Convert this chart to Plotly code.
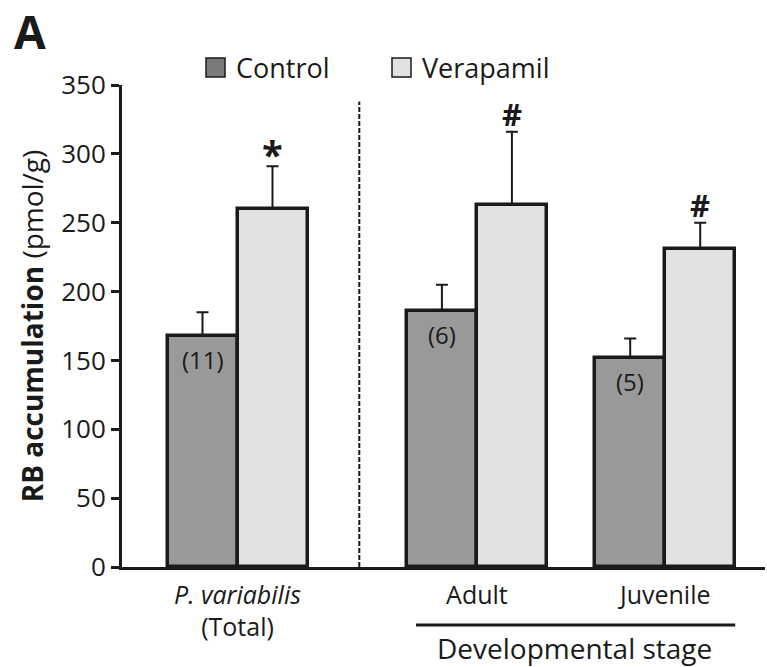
import plotly.graph_objects as go

# Data: RB accumulation (pmol/g), mean and upper SEM
groups = ["<i>P. variabilis</i><br>(Total)", "Adult", "Juvenile"]
control_mean = [168, 186, 152]
control_err = [17, 19, 14]
verapamil_mean = [260, 263, 231]
verapamil_err = [31, 53, 19]
n_labels = ["(11)", "(6)", "(5)"]
sig_marks = ["*", "#", "#"]

# Layout positions (bar units, each bar is 1 unit wide)
group_x = [1.65, 5.07, 7.76]
divider_x = 3.39
x_max = 643 / 70

FONT = "Open Sans"
INK = "#1a1a1a"
C_CTRL = "#999999"
C_VERA = "#e2e2e2"

ctrl_x = [g - 0.5 for g in group_x]
vera_x = [g + 0.5 for g in group_x]

fig = go.Figure()
fig.add_trace(go.Bar(
    x=ctrl_x, y=control_mean, width=1, name="Control",
    marker=dict(color=C_CTRL, line=dict(color=INK, width=3.5)),
    error_y=dict(type="data", symmetric=False, array=control_err,
                 arrayminus=[0] * 3, thickness=2, width=6, color=INK),
    showlegend=False,
))
fig.add_trace(go.Bar(
    x=vera_x, y=verapamil_mean, width=1, name="Verapamil",
    marker=dict(color=C_VERA, line=dict(color=INK, width=3.5)),
    error_y=dict(type="data", symmetric=False, array=verapamil_err,
                 arrayminus=[0] * 3, thickness=2, width=6, color=INK),
    showlegend=False,
))

annotations = []
# sample sizes inside control bars
for x, m, t in zip(ctrl_x, control_mean, n_labels):
    annotations.append(dict(x=x, y=m, text=t, showarrow=False, yanchor="middle",
                            yshift=-24, font=dict(family=FONT, size=24, color=INK)))
# significance marks above verapamil bars
for x, m, e, t in zip(vera_x, verapamil_mean, verapamil_err, sig_marks):
    annotations.append(dict(x=x, y=m + e, text=f"<b>{t}</b>", showarrow=False,
                            yanchor="middle", yshift=18 if t == "#" else 12,
                            font=dict(family=FONT, size=31 if t == "#" else 38, color=INK)))

# panel letter
annotations.append(dict(xref="paper", yref="paper", x=-122 / 643, y=(567 - 31) / 482,
                        xanchor="left", yanchor="middle", xshift=12, showarrow=False,
                        text="<b>A</b>", font=dict(family=FONT, size=46, color=INK)))

# legend
annotations.append(dict(xref="paper", yref="paper", x=(234 - 122) / 643, y=(567 - 68) / 482,
                        xanchor="left", yanchor="middle", showarrow=False,
                        text="Control", font=dict(family=FONT, size=27, color=INK)))
annotations.append(dict(xref="paper", yref="paper", x=(420 - 122) / 643, y=(567 - 68) / 482,
                        xanchor="left", yanchor="middle", showarrow=False,
                        text="Verapamil", font=dict(family=FONT, size=27, color=INK)))

# grouping caption
annotations.append(dict(xref="x", yref="paper", x=(group_x[1] + group_x[2]) / 2 + 0.05,
                        y=(567 - 648) / 482, yanchor="middle", showarrow=False,
                        text="Developmental stage", font=dict(family=FONT, size=28, color=INK)))

shapes = [
    # divider between total and developmental stages
    dict(type="line", xref="x", yref="y", x0=divider_x, x1=divider_x, y0=0, y1=338,
         line=dict(color=INK, width=2, dash="5px,2px")),
    # bracket line under developmental stage groups
    dict(type="line", xref="x", yref="paper", x0=4.2, x1=8.76,
         y0=(567 - 625) / 482, y1=(567 - 625) / 482, line=dict(color=INK, width=3)),
    # legend swatches
    dict(type="rect", xref="paper", yref="paper",
         x0=(206 - 122) / 643, x1=(225 - 122) / 643, y0=(567 - 77) / 482, y1=(567 - 58) / 482,
         fillcolor="#7a7a7a", line=dict(color=INK, width=1.5)),
    dict(type="rect", xref="paper", yref="paper",
         x0=(392 - 122) / 643, x1=(411 - 122) / 643, y0=(567 - 77) / 482, y1=(567 - 58) / 482,
         fillcolor=C_VERA, line=dict(color=INK, width=1.5)),
]

fig.update_layout(
    width=767, height=667, autosize=False,
    margin=dict(l=122, r=2, t=85, b=100, pad=0),
    paper_bgcolor="white", plot_bgcolor="white",
    font=dict(family=FONT, size=24, color=INK),
    bargap=0, showlegend=False,
    annotations=annotations, shapes=shapes,
    xaxis=dict(range=[0, x_max], tickvals=group_x, ticktext=groups,
               showline=True, linecolor=INK, linewidth=2.5, ticks="", showgrid=False,
               zeroline=False, tickfont=dict(family=FONT, size=25, color=INK),
               ticklabelstandoff=4),
    yaxis=dict(range=[0, 350], tickvals=[0, 50, 100, 150, 200, 250, 300, 350],
               showline=True, linecolor=INK, linewidth=3, ticks="outside", ticklen=8,
               tickwidth=3, tickcolor=INK, showgrid=False, zeroline=False,
               tickfont=dict(family=FONT, size=26, color=INK),
               title=dict(text="<b>RB accumulation</b> (pmol/g)", standoff=10,
                          font=dict(family=FONT, size=28, color=INK))),
)

fig.write_html("out.html")
